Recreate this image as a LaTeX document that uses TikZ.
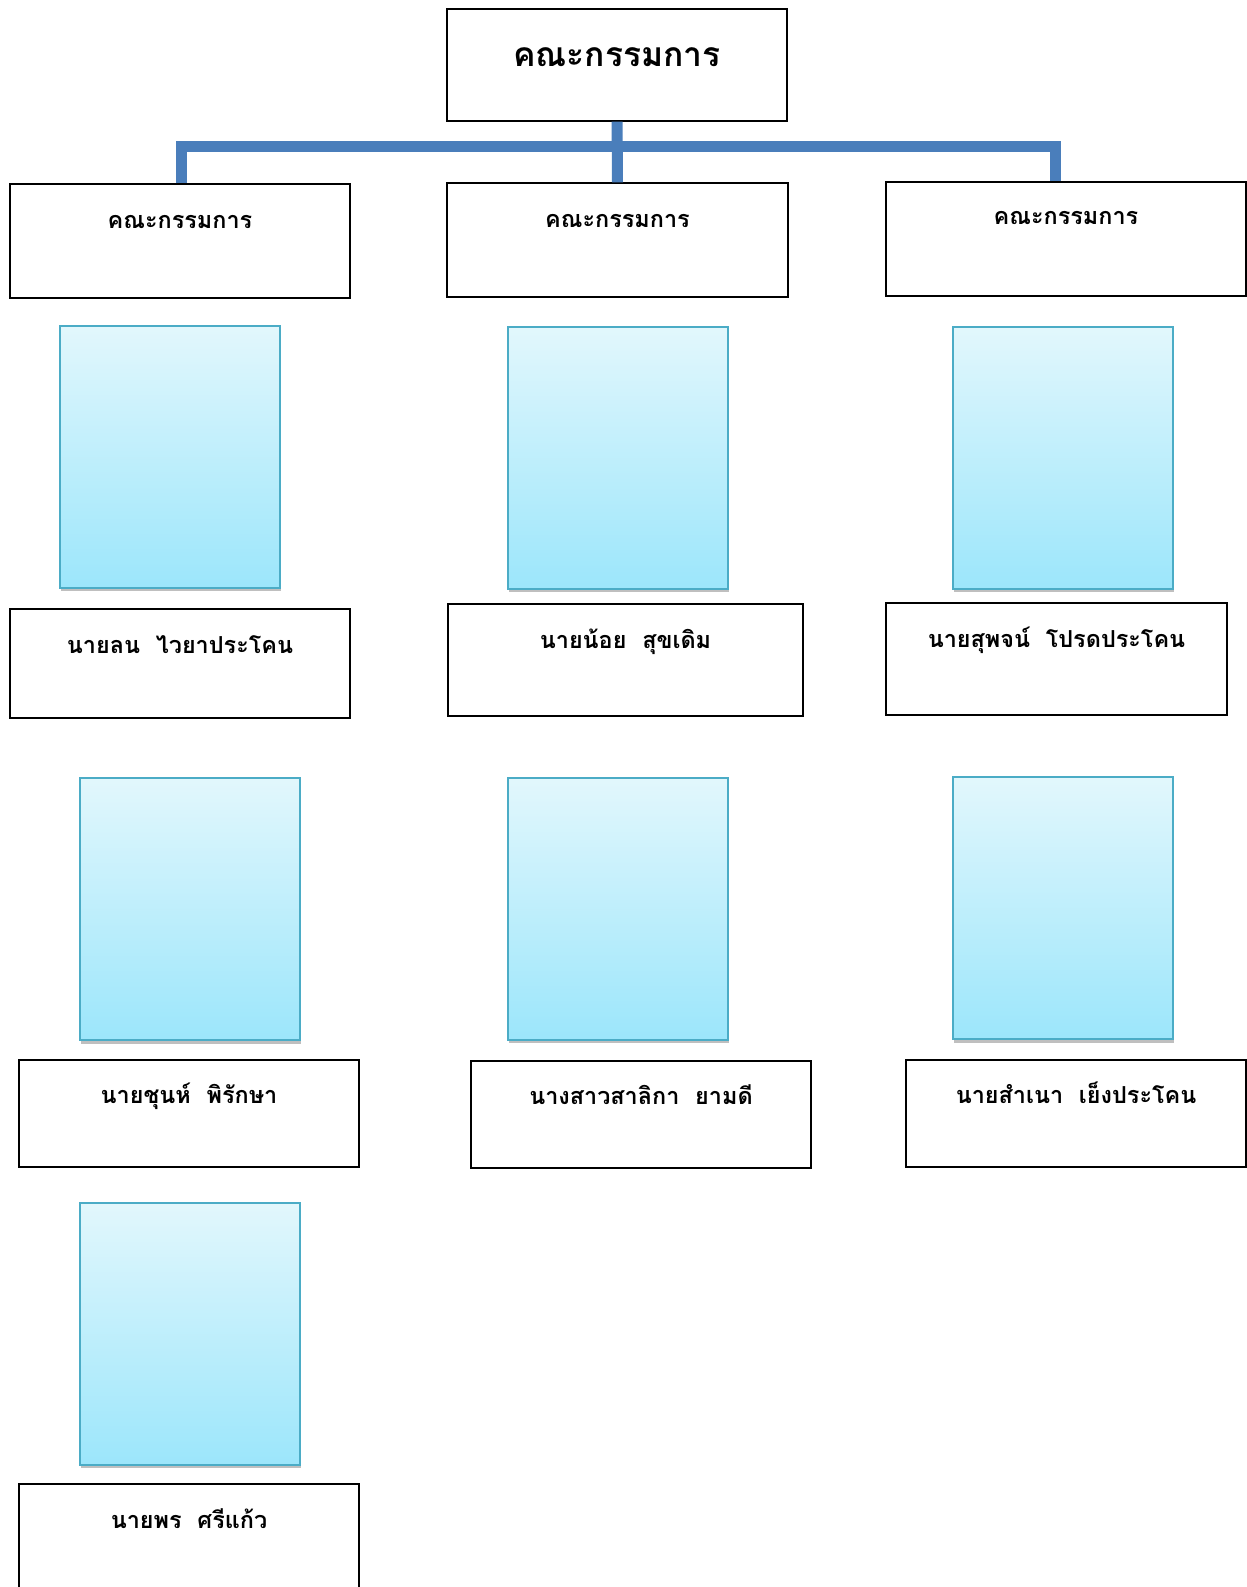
\documentclass[tikz,border=0pt]{standalone}
\usepackage{fontspec}
\newfontfamily\thaifont[Script=Thai]{Loma}
\usetikzlibrary{shadows}

\definecolor{barblue}{HTML}{4A7EBB}
\definecolor{phototop}{HTML}{E2F7FC}
\definecolor{photobot}{HTML}{9CE6FB}
\definecolor{photoedge}{HTML}{4BACC6}

\tikzset{
  box/.style={draw=black, line width=0.65pt, inner xsep=0pt, inner ysep=0pt,
    font=\thaifont\bfseries\fontsize{11.7}{14}\selectfont},
  namebox/.style 2 args={box, minimum width=#1, text height=22pt, text depth=#2},
  photo/.style={draw=photoedge, line width=1pt, top color=phototop, bottom color=photobot,
    minimum width=110pt, minimum height=131pt, inner sep=0pt,
    drop shadow={shadow xshift=0.6pt, shadow yshift=-1.8pt, opacity=0.5}},
  link/.style={draw=barblue, line width=5.5pt}
}

\begin{document}
\begin{tikzpicture}[x=0.5pt, y=-0.5pt]

  \useasboundingbox (0,0) rectangle (1247,1587);

  % ---------------- committee boxes ----------------
  \node[box, minimum width=170pt, text height=28.5pt, text depth=27.5pt,
    font=\thaifont\bfseries\fontsize{16.8}{20}\selectfont] (top) at (617,65) {คณะกรรมการ};
  \node[namebox={170pt}{35pt}]   (c1) at (180,241)   {คณะกรรมการ};
  \node[namebox={170.5pt}{35pt}] (c2) at (617.5,240) {คณะกรรมการ};
  \node[box, minimum width=180pt, text height=21pt, text depth=36pt] (c3) at (1066,239) {คณะกรรมการ};

  % the bus joining them
  \coordinate (bus) at (617,146);
  \coordinate (stemL) at ([xshift=0.5pt]c1.north);
  \coordinate (stemR) at ([xshift=-5.5pt]c3.north);
  \draw[link] (top.south) -- (c2.north);
  \draw[link] (stemL) -- (stemL |- bus) -- (stemR |- bus) -- (stemR);

  % ---------------- photo frames ----------------
  \node[photo] (p1) at (169.5,456.5) {};
  \node[photo] (p2) at (617.5,457.5) {};
  \node[photo] (p3) at (1062.5,457.5) {};
  \node[photo] (p4) at (189.5,909) {};
  \node[photo] (p5) at (617.5,908.5) {};
  \node[photo] (p6) at (1062.5,908) {};
  \node[photo] (p7) at (189.5,1333.5) {};

  % ---------------- names ----------------
  \node[namebox={170pt}{32.5pt}]   (n1) at (180,663.5)   {นายลน\ \ ไวยาประโคน};
  \node[namebox={177.5pt}{34pt}]   (n2) at (625.5,660)   {นายน้อย\ \ สุขเดิม};
  \node[namebox={170.5pt}{34pt}]   (n3) at (1056.5,659)  {นายสุพจน์\ \ โปรดประโคน};
  \node[box, minimum width=170pt, text height=21.5pt, text depth=32pt] (n4) at (189,1113.5) {นายชุนห์\ \ พิรักษา};
  \node[box, minimum width=170pt, text height=21.5pt, text depth=32pt] (n5) at (641,1114.5) {นางสาวสาลิกา\ \ ยามดี};
  \node[box, minimum width=170pt, text height=21.5pt, text depth=32pt] (n6) at (1076,1113.5) {นายสำเนา\ \ เย็งประโคน};
  \node[namebox={170pt}{33pt}]     (n7) at (189,1539)    {นายพร\ \ ศรีแก้ว};

\end{tikzpicture}
\end{document}
